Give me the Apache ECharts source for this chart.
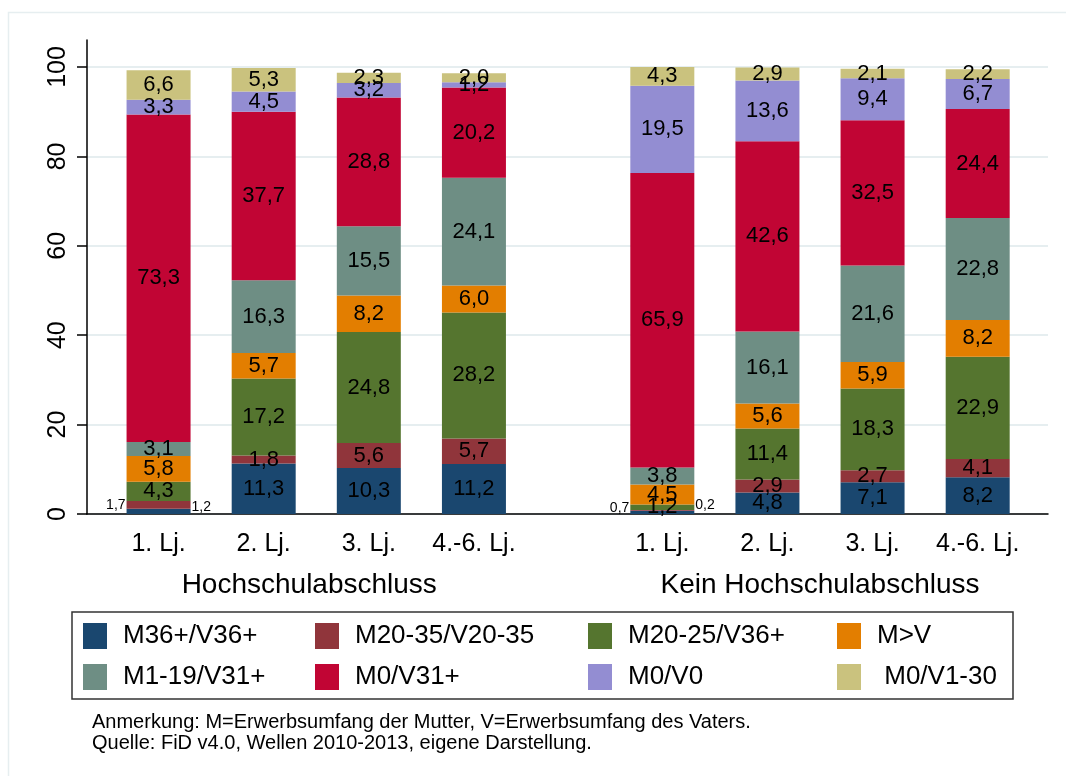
<!DOCTYPE html>
<html>
<head>
<meta charset="utf-8">
<title>Erwerbskonstellationen nach Lebensjahr</title>
<script src="https://cdn.jsdelivr.net/npm/echarts@6/dist/echarts.min.js"></script>
<style>
  html, body { margin: 0; padding: 0; background: #fff; }
  #chart { width: 1066px; height: 776px; }
</style>
</head>
<body>
<div id="chart"></div>
<script>
// Gruppen & Kategorien
const groups = ['Hochschulabschluss', 'Kein Hochschulabschluss'];
const years = ['1. Lj.', '2. Lj.', '3. Lj.', '4.-6. Lj.'];
const seriesNames = ['M36+/V36+', 'M20-35/V20-35', 'M20-25/V36+', 'M>V', 'M1-19/V31+', 'M0/V31+', 'M0/V0', 'M0/V1-30'];
const colors = ['#1a476f', '#90353b', '#55752f', '#e37e00', '#6e8e84', '#c10534', '#938dd2', '#cac27e'];

// Anteile in % - je 4 Werte mit, dann 4 Werte ohne Hochschulabschluss
const m36v36     = [1.2, 11.3, 10.3, 11.2,   0.7,  4.8,  7.1,  8.2];
const m2035v2035 = [1.7,  1.8,  5.6,  5.7,   0.2,  2.9,  2.7,  4.1];
const m2025v36   = [4.3, 17.2, 24.8, 28.2,   1.2, 11.4, 18.3, 22.9];
const mGtV       = [5.8,  5.7,  8.2,  6.0,   4.5,  5.6,  5.9,  8.2];
const m119v31    = [3.1, 16.3, 15.5, 24.1,   3.8, 16.1, 21.6, 22.8];
const m0v31      = [73.3, 37.7, 28.8, 20.2, 65.9, 42.6, 32.5, 24.4];
const m0v0       = [3.3,  4.5,  3.2,  1.2,  19.5, 13.6,  9.4,  6.7];
const m0v130     = [6.6,  5.3,  2.3,  2.0,   4.3,  2.9,  2.1,  2.2];
const yTicks = [0, 20, 40, 60, 80, 100];

const allValues = [m36v36, m2035v2035, m2025v36, mGtV, m119v31, m0v31, m0v0, m0v130];

// small labels placed beside the bar (series-group-bar)
const sideLabels = {
  '0-0-0': { position: 'right', offset: [0, -4] },
  '1-0-0': { position: 'left',  offset: [0, 0] },
  '0-1-0': { position: 'left',  offset: [0, -4] },
  '1-1-0': { position: 'right', offset: [0, -5] }
};

const FONT = 'Liberation Sans, Arial, sans-serif';
const fmt = v => v.toFixed(1).replace('.', ',');

const chart = echarts.init(document.getElementById('chart'));

const yStep = yTicks[1] - yTicks[0];
const yMax = yTicks[yTicks.length - 1];

// Series: 8 per group, stacked per group
const series = [];
groups.forEach((g, gi) => {
  allValues.forEach((vals, si) => {
    const part = vals.slice(gi * 4, gi * 4 + 4);
    series.push({
      name: seriesNames[si],
      type: 'bar',
      stack: 'g' + gi,
      xAxisIndex: gi + 2,
      yAxisIndex: gi + 2,
      barWidth: 64,
      itemStyle: { color: colors[si] },
      label: {
        show: true,
        position: 'inside',
        color: '#000',
        fontSize: 22,
        fontFamily: FONT,
        formatter: p => fmt(p.value)
      },
      data: part.map((v, di) => {
        const side = sideLabels[si + '-' + gi + '-' + di];
        if (!side) return v;
        return {
          value: v,
          label: { position: side.position, offset: side.offset, distance: 1, fontSize: 14 }
        };
      })
    });
  });
});

const legendCols = [
  { left: 83,  names: [seriesNames[0], seriesNames[4]] },
  { left: 315, names: [seriesNames[1], seriesNames[5]] },
  { left: 588, names: [seriesNames[2], seriesNames[6]] },
  { left: 837, names: [seriesNames[3], seriesNames[7]] }
];

const groupAxis = (gi) => ({
  type: 'category',
  gridIndex: gi + 2,
  data: years,
  axisLine: { show: false },
  axisTick: { show: false },
  axisLabel: { color: '#000', fontSize: 25, fontFamily: FONT, margin: 18, interval: 0 },
  name: groups[gi],
  nameLocation: 'middle',
  nameGap: 57,
  nameTextStyle: { color: '#000', fontSize: 28, fontFamily: FONT, padding: gi === 0 ? [0, 14, 0, 0] : 0 }
});

chart.setOption({
  animation: false,
  textStyle: { fontFamily: FONT },
  title: {
    text: 'Anmerkung: M=Erwerbsumfang der Mutter, V=Erwerbsumfang des Vaters.\nQuelle: FiD v4.0, Wellen 2010-2013, eigene Darstellung.',
    left: 92,
    top: 712,
    padding: 0,
    textStyle: { fontSize: 20, fontWeight: 'normal', color: '#000', lineHeight: 21, fontFamily: FONT }
  },
  legend: legendCols.map(c => ({
    orient: 'vertical',
    left: c.left,
    top: 623,
    padding: 0,
    itemWidth: 24,
    itemHeight: 26,
    itemGap: 15,
    icon: 'rect',
    selectedMode: false,
    data: c.names,
    formatter: n => (n === 'M0/V1-30' ? ' ' + n : n),
    textStyle: { fontSize: 26, color: '#000', fontFamily: FONT, padding: [0, 0, 0, 11] }
  })),
  grid: [
    { left: 87, right: 18, top: 40, bottom: 262 },     // axis frame
    { left: 87, right: 18, top: 67, bottom: 262 },     // ticks & gridlines
    { left: 106, width: 420.5, top: 67, bottom: 262 }, // Hochschulabschluss
    { left: 609.75, width: 420.5, top: 67, bottom: 262 } // kein Hochschulabschluss
  ],
  xAxis: [
    {
      type: 'category', gridIndex: 0, data: [''],
      axisLine: { lineStyle: { color: '#000', width: 1.5 } },
      axisTick: { show: false }, axisLabel: { show: false }
    },
    { type: 'category', gridIndex: 1, data: [''], show: false },
    groupAxis(0),
    groupAxis(1)
  ],
  yAxis: [
    {
      type: 'value', gridIndex: 0, min: 0, max: 106,
      axisLine: { show: true, lineStyle: { color: '#000', width: 1.5 } },
      axisTick: { show: false }, axisLabel: { show: false }, splitLine: { show: false }
    },
    {
      type: 'value', gridIndex: 1, min: yTicks[0], max: yMax, interval: yStep,
      axisLine: { show: false },
      axisTick: { show: true, length: 10, lineStyle: { color: '#000', width: 1.5 } },
      axisLabel: { rotate: 90, color: '#000', fontSize: 25, fontFamily: FONT, margin: 16 },
      splitLine: { show: true, lineStyle: { color: '#e6eef0', width: 2 } }
    },
    { type: 'value', gridIndex: 2, min: 0, max: yMax, show: false },
    { type: 'value', gridIndex: 3, min: 0, max: yMax, show: false }
  ],
  graphic: [
    {
      type: 'rect', silent: true, z: -10,
      shape: { x: 8.5, y: 12.5, width: 1100, height: 800 },
      style: { fill: null, stroke: '#e6eef0', lineWidth: 1.5 }
    },
    {
      type: 'rect', silent: true, z: -5,
      shape: { x: 72, y: 612, width: 941, height: 87 },
      style: { fill: null, stroke: '#333', lineWidth: 1.5 }
    }
  ],
  series: series
});
</script>
</body>
</html>
